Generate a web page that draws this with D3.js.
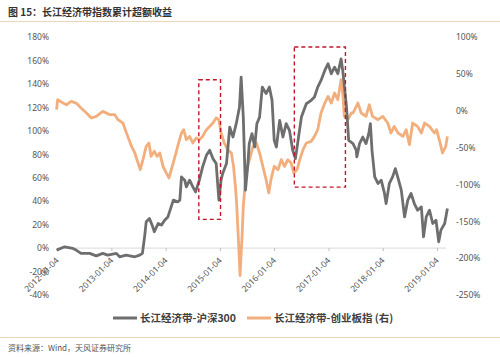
<!DOCTYPE html>
<html><head><meta charset="utf-8">
<script src="https://cdn.jsdelivr.net/npm/d3@7"></script>
<style>
body{margin:0;background:#fff;}
svg{display:block;font-family:"Noto Sans CJK SC","Noto Sans",sans-serif;}
</style></head>
<body><svg id="c" width="500" height="357"></svg>
<script>
// ---- data (decimal years) ----
const grayDates = [2012.00,2012.15,2012.30,2012.36,2012.45,2012.61,2012.73,2012.85,2012.94,2013.10,2013.16,2013.28,2013.44,2013.53,2013.58,2013.62,2013.65,2013.71,2013.77,2013.80,2013.87,2013.93,2013.99,2014.05,2014.11,2014.15,2014.23,2014.27,2014.30,2014.36,2014.39,2014.45,2014.51,2014.56,2014.63,2014.69,2014.76,2014.82,2014.88,2014.94,2014.99,2015.03,2015.06,2015.13,2015.19,2015.25,2015.31,2015.37,2015.40,2015.44,2015.48,2015.52,2015.55,2015.60,2015.65,2015.69,2015.74,2015.79,2015.86,2015.92,2015.97,2016.01,2016.05,2016.11,2016.17,2016.23,2016.29,2016.35,2016.40,2016.44,2016.51,2016.60,2016.69,2016.75,2016.81,2016.87,2016.94,2017.00,2017.06,2017.12,2017.18,2017.24,2017.27,2017.34,2017.38,2017.46,2017.52,2017.53,2017.58,2017.64,2017.70,2017.75,2017.78,2017.81,2017.86,2017.92,2017.98,2018.04,2018.07,2018.13,2018.19,2018.24,2018.30,2018.35,2018.41,2018.47,2018.53,2018.59,2018.65,2018.72,2018.76,2018.81,2018.87,2018.93,2018.99,2019.04,2019.08,2019.15,2019.20];
const grayValues = [-1.7,1.1,-0.3,-1.7,-4.5,-4.5,-6.6,-4.5,-6.0,-4.5,-7.4,-6.0,-7.4,-6.0,-4.5,9.6,22.4,25.3,18.1,13.9,21.0,19.6,23.8,26.6,35.1,40.9,39.4,40.9,60.7,57.9,52.2,57.9,52.2,47.9,57.9,69.2,79.1,83.4,76.3,72.1,40.9,57.9,63.6,72.1,103.2,94.7,106.1,120.3,145.8,111.7,49.4,69.2,89.1,97.6,86.2,106.1,111.7,137.3,131.7,137.3,126.0,91.9,86.2,108.9,94.7,106.1,100.4,83.4,76.3,89.1,111.7,123.1,126.0,128.8,137.3,143.0,151.5,157.2,148.7,154.3,148.7,161.4,151.5,120.3,91.9,89.1,83.4,77.7,89.1,94.7,89.1,97.6,106.1,83.4,60.7,55.1,57.9,46.6,38.0,55.1,60.7,67.8,57.9,49.4,26.6,40.9,46.6,38.0,32.3,35.1,9.6,26.6,32.3,21.0,23.8,5.4,15.3,21.0,33.8];
const orangeDates = [2012.00,2012.02,2012.12,2012.18,2012.27,2012.36,2012.45,2012.55,2012.64,2012.73,2012.85,2012.98,2013.07,2013.13,2013.22,2013.31,2013.38,2013.44,2013.50,2013.54,2013.59,2013.65,2013.70,2013.74,2013.80,2013.85,2013.90,2013.96,2014.02,2014.07,2014.13,2014.20,2014.23,2014.30,2014.34,2014.39,2014.45,2014.51,2014.57,2014.63,2014.69,2014.76,2014.82,2014.88,2014.94,2014.99,2015.03,2015.09,2015.15,2015.22,2015.26,2015.30,2015.32,2015.35,2015.38,2015.42,2015.44,2015.48,2015.52,2015.57,2015.62,2015.68,2015.74,2015.80,2015.86,2015.91,2015.95,2016.01,2016.08,2016.14,2016.20,2016.26,2016.32,2016.37,2016.43,2016.48,2016.54,2016.60,2016.69,2016.75,2016.81,2016.87,2016.94,2017.00,2017.06,2017.12,2017.18,2017.24,2017.27,2017.30,2017.36,2017.43,2017.46,2017.52,2017.55,2017.61,2017.70,2017.76,2017.82,2017.92,2018.01,2018.10,2018.16,2018.22,2018.29,2018.38,2018.44,2018.50,2018.56,2018.65,2018.72,2018.78,2018.87,2018.96,2019.00,2019.05,2019.11,2019.17,2019.20];
const orangeValues = [1.4,14.9,10.4,8.1,12.6,10.4,3.7,-3.1,-9.9,-7.7,-0.9,-5.4,-5.4,-12.2,-16.7,-34.8,-48.4,-57.3,-70.9,-79.9,-66.4,-48.4,-43.8,-61.9,-55.1,-61.9,-57.3,-75.5,-84.4,-91.2,-75.5,-57.3,-48.4,-30.2,-25.7,-39.3,-34.8,-43.8,-37.0,-39.3,-34.8,-25.7,-21.3,-16.7,-9.9,-12.2,-30.2,-43.8,-52.8,-57.3,-75.5,-107.0,-129.7,-174.8,-223.6,-165.7,-129.7,-93.5,-75.5,-61.9,-48.4,-43.8,-57.3,-75.5,-93.5,-111.5,-93.5,-75.5,-79.9,-66.4,-75.5,-66.4,-70.9,-84.4,-79.9,-66.4,-52.8,-43.8,-41.6,-34.8,-25.7,-3.1,10.4,19.4,10.4,24.0,14.9,42.0,24.0,-7.7,-12.2,-3.1,-3.1,5.8,10.4,-3.1,-7.7,8.1,-7.7,-12.2,-7.7,-16.7,-30.2,-21.3,-30.2,-34.8,-25.7,-46.1,-16.7,-21.3,-30.2,-16.7,-21.3,-30.2,-25.7,-39.3,-57.3,-48.4,-34.8];
const xTickLabels = ["2012-01-04","2013-01-04","2014-01-04","2015-01-04","2016-01-04","2017-01-04","2018-01-04","2019-01-04"];
const leftTicks = [180,160,140,120,100,80,60,40,20,0,-20,-40];
const rightTicks = [100,50,0,-50,-100,-150,-200,-250];
const seriesNames = ["长江经济带-沪深300","长江经济带-创业板指 (右)"];
// highlight boxes: [startYear, endYear, leftValTop, leftValBottom]
const boxes = [[2014.62,2015.02,143.5,24.5],[2016.38,2017.32,171.5,52]];
const titleText = "图 15：长江经济带指数累计超额收益";
const sourceText = "资料来源：Wind，天风证券研究所";

const colors = {gray:"#6e6e6e", orange:"#f2ae7c", text:"#555", line:"#e9d7b8"};

function toDate(y){ const yr=Math.floor(y); const s=new Date(yr,0,1).getTime(); const e=new Date(yr+1,0,1).getTime(); return new Date(s+(y-yr)*(e-s)); }

const svg = d3.select("#c");
const x = d3.scaleTime().domain([new Date(2012,0,4), new Date(2019,0,4)]).range([57,437]);
const yL = d3.scaleLinear().domain([-40,180]).range([295,37]);
const yR = d3.scaleLinear().domain([-250,100]).range([295,37]);

// title & frame lines
svg.append("text").attr("x",8).attr("y",16).attr("font-size",10).attr("font-weight","bold").attr("fill","#333").text(titleText);
svg.append("line").attr("x1",0).attr("x2",500).attr("y1",21.5).attr("y2",21.5).attr("stroke",colors.line).attr("stroke-width",1.2);
svg.append("line").attr("x1",0).attr("x2",500).attr("y1",337.5).attr("y2",337.5).attr("stroke",colors.line).attr("stroke-width",1.2);
svg.append("text").attr("x",8).attr("y",351).attr("font-size",8).attr("fill","#555").text(sourceText);

// left axis
const gL = svg.append("g").attr("transform","translate(49,0)")
  .call(d3.axisLeft(yL).tickValues(leftTicks).tickSize(0).tickPadding(0).tickFormat(d=>d+"%"));
gL.select(".domain").remove();
gL.selectAll("text").attr("font-size",8.5).attr("fill",colors.text).attr("font-family","'Noto Sans',sans-serif");

// right axis
const gR = svg.append("g").attr("transform","translate(456,0)")
  .call(d3.axisRight(yR).tickValues(rightTicks).tickSize(0).tickPadding(0).tickFormat(d=>d+"%"));
gR.select(".domain").remove();
gR.selectAll("text").attr("font-size",8.5).attr("fill",colors.text).attr("font-family","'Noto Sans',sans-serif");

// x axis at 0%
const tickDates = xTickLabels.map(s=>d3.timeParse("%Y-%m-%d")(s));
const gX = svg.append("g").attr("transform",`translate(0,${yL(0)})`)
  .call(d3.axisBottom(x).tickValues(tickDates).tickSize(3).tickFormat(d3.timeFormat("%Y-%m-%d")));
gX.select(".domain").attr("d",`M57,0H446`).attr("stroke","#d9d9d9");
gX.selectAll(".tick line").attr("stroke","#bfbfbf");
gX.selectAll("text").attr("font-size",8.5).attr("fill",colors.text).attr("font-family","'Noto Sans',sans-serif")
  .attr("text-anchor","end").attr("dy",0).attr("y",0)
  .attr("transform","translate(2,13) rotate(-45)");

// lines
const lineL = d3.line().x(d=>x(toDate(d[0]))).y(d=>yL(d[1]));
const lineR = d3.line().x(d=>x(toDate(d[0]))).y(d=>yR(d[1]));
svg.append("path").datum(orangeDates.map((d,i)=>[d,orangeValues[i]])).attr("d",lineR)
  .attr("fill","none").attr("stroke",colors.orange).attr("stroke-width",2.8).attr("stroke-linejoin","round");
svg.append("path").datum(grayDates.map((d,i)=>[d,grayValues[i]])).attr("d",lineL)
  .attr("fill","none").attr("stroke",colors.gray).attr("stroke-width",2.8).attr("stroke-linejoin","round");

// boxes
boxes.forEach(b=>{
  const x0=x(toDate(b[0])), x1=x(toDate(b[1])), y0=yL(b[2]), y1=yL(b[3]);
  svg.append("rect").attr("x",x0).attr("y",y0).attr("width",x1-x0).attr("height",y1-y0)
    .attr("fill","none").attr("stroke","#c0172a").attr("stroke-width",1.4).attr("stroke-dasharray","4,3");
});

// legend
const leg = [{x:113,c:colors.gray,t:seriesNames[0]},{x:247,c:colors.orange,t:seriesNames[1]}];
leg.forEach(l=>{
  svg.append("line").attr("x1",l.x).attr("x2",l.x+24).attr("y1",318).attr("y2",318).attr("stroke",l.c).attr("stroke-width",3);
  svg.append("text").attr("x",l.x+27).attr("y",322).attr("font-size",10.5).attr("font-weight","bold").attr("fill","#404040").text(l.t);
});
</script></body></html>
